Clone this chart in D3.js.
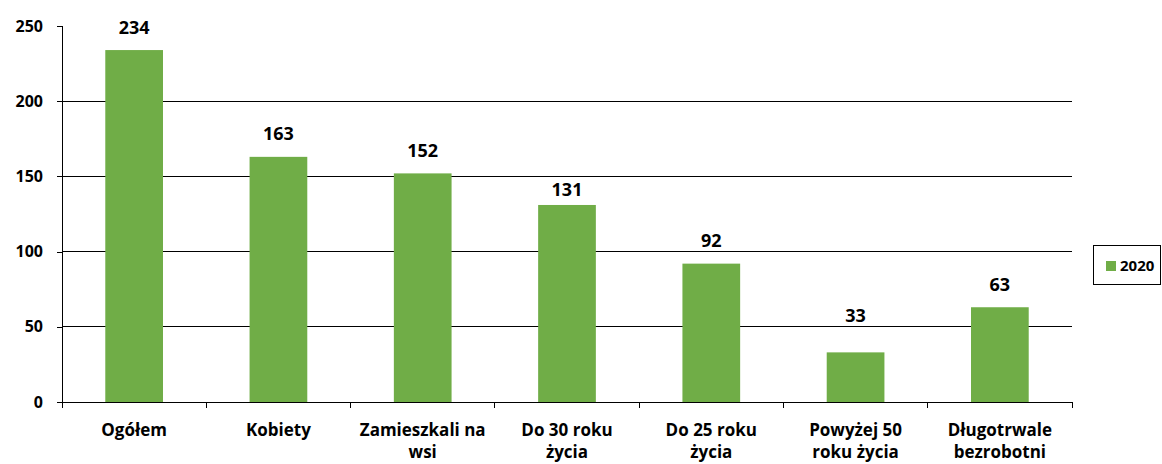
<!DOCTYPE html>
<html>
<head>
<meta charset="utf-8">
<script src="https://cdn.jsdelivr.net/npm/d3@7"></script>
<style>
  body { margin: 0; background: #fff; }
  svg text { font-family: "Open Sans", Lato, sans-serif; font-weight: bold; fill: #000; }
</style>
</head>
<body>
<svg id="chart" width="1162" height="464"></svg>
<script>
// chart data
const categories = [
  ['Ogółem'],
  ['Kobiety'],
  ['Zamieszkali na', 'wsi'],
  ['Do 30 roku', 'życia'],
  ['Do 25 roku', 'życia'],
  ['Powyżej 50', 'roku życia'],
  ['Długotrwale', 'bezrobotni']
];
const values2020 = [234, 163, 152, 131, 92, 33, 63];
const yTicks = [0, 50, 100, 150, 200, 250];
const seriesName = '2020';

const svg = d3.select('#chart');
const plotL = 62, plotR = 1072, plotT = 26, plotB = 402;

const x = d3.scaleBand()
  .domain(categories.map((d, i) => i))
  .range([plotL, plotR])
  .paddingInner(0.6)
  .paddingOuter(0.3);

// band edges for tick marks
const step = (plotR - plotL) / categories.length;

const y = d3.scaleLinear().domain([0, 250]).range([plotB, plotT]);
const gridVals = yTicks.filter(t => t > 0 && t < 250);

// gridlines
svg.append('g')
  .selectAll('line')
  .data(gridVals)
  .join('line')
  .attr('x1', plotL).attr('x2', plotR)
  .attr('y1', d => y(d)).attr('y2', d => y(d))
  .attr('stroke', '#000')
  .attr('stroke-width', 1)
  .attr('shape-rendering', 'crispEdges');

// bars
svg.append('g')
  .selectAll('rect')
  .data(values2020)
  .join('rect')
  .attr('x', (d, i) => x(i))
  .attr('width', x.bandwidth())
  .attr('y', d => y(d))
  .attr('height', d => y(0) - y(d))
  .attr('fill', '#70AD47');

// value labels - nudged off the gridlines like in the original
const capH = 13;
function labelY(v) {
  const barTop = y(v);
  let base = barTop - 16.5;
  gridVals.forEach(g => {
    const gy = y(g);
    if (gy > base - capH - 2 && gy < base + 2) {
      const below = gy + 7 + capH;
      if (barTop - below >= 8) base = below;
      else base = gy - 5;
    }
  });
  return base;
}

svg.append('g')
  .selectAll('text')
  .data(values2020)
  .join('text')
  .attr('x', (d, i) => x(i) + x.bandwidth() / 2)
  .attr('y', d => labelY(d))
  .attr('text-anchor', 'middle')
  .style('font-size', '18px')
  .text(d => d);

// y axis
const yAxis = svg.append('g')
  .attr('transform', `translate(${plotL},0)`)
  .call(d3.axisLeft(y).tickValues(yTicks).tickSize(5).tickPadding(14));
yAxis.selectAll('text').style('font-size', '16px');
yAxis.selectAll('line,path').attr('stroke', '#000').attr('shape-rendering', 'crispEdges');

// x axis line + ticks
const xg = svg.append('g');
xg.append('line')
  .attr('x1', plotL).attr('x2', plotR)
  .attr('y1', plotB).attr('y2', plotB)
  .attr('stroke', '#000')
  .attr('shape-rendering', 'crispEdges');
xg.selectAll('.tk')
  .data(d3.range(categories.length + 1))
  .join('line')
  .attr('class', 'tk')
  .attr('x1', i => plotL + i * step).attr('x2', i => plotL + i * step)
  .attr('y1', plotB).attr('y2', plotB + 6)
  .attr('stroke', '#000')
  .attr('shape-rendering', 'crispEdges');

// category labels
const lbl = xg.selectAll('.cat')
  .data(categories)
  .join('text')
  .attr('class', 'cat')
  .attr('text-anchor', 'middle')
  .style('font-size', '17px');
lbl.selectAll('tspan')
  .data((d, i) => d.map(s => ({ s: s, i: i })))
  .join('tspan')
  .attr('x', d => x(d.i) + x.bandwidth() / 2)
  .attr('y', (d, j) => 436 + j * 22)
  .text(d => d.s);

// legend
const lg = svg.append('g');
lg.append('rect')
  .attr('x', 1093.5).attr('y', 245.5)
  .attr('width', 67).attr('height', 39)
  .attr('fill', '#fff')
  .attr('stroke', '#000');
lg.append('rect')
  .attr('x', 1106).attr('y', 261)
  .attr('width', 10).attr('height', 10)
  .attr('fill', '#70AD47');
lg.append('text')
  .attr('x', 1120).attr('y', 271)
  .style('font-size', '15px')
  .text(seriesName);
</script>
</body>
</html>
